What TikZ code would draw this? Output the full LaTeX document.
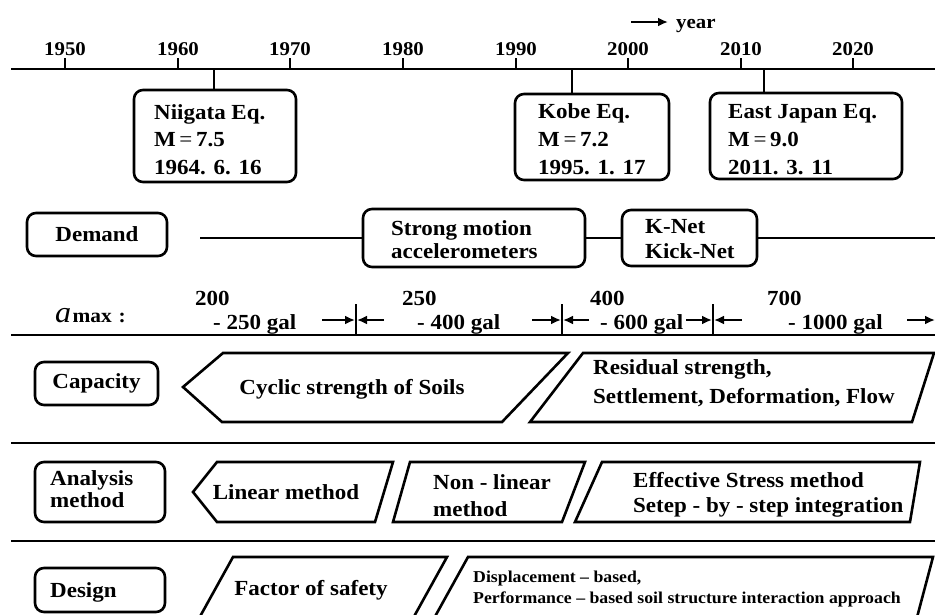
\documentclass[tikz,border=0pt]{standalone}
\usepackage{fontspec}
\setmainfont{Liberation Serif}[FakeStretch=1.07]
\usetikzlibrary{arrows.meta}
\tikzset{
  rbox/.style={draw, rounded corners=9pt, line width=2.6pt, inner sep=0pt},
  lbl/.style={font=\fontsize{21.5}{26}\selectfont\bfseries, inner sep=0pt, anchor=base west},
  clbl/.style={font=\fontsize{21.5}{26}\selectfont\bfseries, inner sep=0pt},
  slbl/.style={font=\fontsize{16.6}{19}\selectfont\bfseries, inner sep=0pt, anchor=base west},
  yr/.style={font=\fontsize{19.5}{22}\selectfont\bfseries, inner sep=0pt, anchor=base},
  arr/.style={-{Latex[length=10pt,width=9pt]}, line width=2.4pt},
  shp/.style={draw, line width=2.6pt, line join=miter},
  rule/.style={line width=2.6pt},
}
\begin{document}
\begin{tikzpicture}[x=1pt,y=-1pt]
\useasboundingbox (0,0) rectangle (935,614);
\clip (0,0) rectangle (935,614);

% ---------- timeline ----------
\coordinate (tlL) at (11,69);
\coordinate (tlR) at (935,69);
\draw[rule] (tlL) -- (tlR);
\foreach \x/\t in {65/1950,178/1960,290/1970,403/1980,516/1990,628/2000,741/2010,853/2020}{
  \draw[rule] (\x,58) -- (\x,69);
  \node[yr] (y\t) at (\x,55) {\t};
}
\coordinate (yrA) at (631,22);
\coordinate (yrB) at (668,22);
\draw[arr] (yrA) -- (yrB);
\node[lbl, font=\fontsize{19.5}{22}\selectfont\bfseries] (year) at (676,28) {year};

% ---------- earthquakes ----------
\node[rbox, minimum width=162, minimum height=92] (niigata) at (215,136) {};
\node[rbox, minimum width=154, minimum height=86] (kobe) at (592,137) {};
\node[rbox, minimum width=192, minimum height=86] (east) at (806,136) {};
\coordinate (nT) at (214,69);
\coordinate (kT) at (572,69);
\coordinate (eT) at (764,69);
\draw[rule] (nT) -- (nT |- niigata.north);
\draw[rule] (kT) -- (kT |- kobe.north);
\draw[rule] (eT) -- (eT |- east.north);

\node[lbl] (n1) at (154,119) {Niigata Eq.};
\node[lbl] (n2) at (154,146) {M{\mdseries\,=\,}7.5};
\node[lbl] (n3) at (154,174) {1964. 6. 16};
\node[lbl] (k1) at (538,118) {Kobe Eq.};
\node[lbl] (k2) at (538,146) {M{\mdseries\,=\,}7.2};
\node[lbl] (k3) at (538,174) {1995. 1. 17};
\node[lbl] (e1) at (728,118) {East Japan Eq.};
\node[lbl] (e2) at (728,146) {M{\mdseries\,=\,}9.0};
\node[lbl] (e3) at (728,174) {2011. 3. 11};

% ---------- demand ----------
\node[rbox, clbl, minimum width=140, minimum height=43] (demand) at (97,234.5) {Demand};
\node[rbox, minimum width=222, minimum height=58] (strong) at (474,238) {};
\node[rbox, minimum width=135, minimum height=56] (knet) at (689.5,238) {};
\coordinate (dL) at (200,238);
\coordinate (dR) at (935,238);
\draw[rule] (dL) -- (strong.west);
\draw[rule] (strong.east) -- (knet.west);
\draw[rule] (knet.east) -- (dR);
\node[lbl] (s1) at (391,235) {Strong motion};
\node[lbl] (s2) at (391,258) {accelerometers};
\node[lbl] (kn1) at (645,233) {K-Net};
\node[lbl] (kn2) at (645,258) {Kick-Net};

% ---------- amax ----------
\node[inner sep=0pt, anchor=base west, font=\fontsize{30}{30}\selectfont\itshape\mdseries] (amaxa) at (55,322) {a};
\node[inner sep=0pt, anchor=base west, font=\fontsize{20}{22}\selectfont\bfseries] (amax) at ([xshift=1pt]amaxa.base east) {max\,\,:};
\node[lbl] (v200) at (195,305) {200};
\node[lbl] (r1) at (213,329) {- 250 gal};
\node[lbl] (v250) at (402,305) {250};
\node[lbl] (r2) at (417,329) {- 400 gal};
\node[lbl] (v400) at (590,305) {400};
\node[lbl] (r3) at (600,329) {- 600 gal};
\node[lbl] (v700) at (767,305) {700};
\node[lbl] (r4) at (788,329) {- 1000 gal};
\foreach \x in {356,562,713}{
  \draw[line width=2pt] (\x,304) -- (\x,335);
}
\draw[arr] (322,320) -- (355,320);
\draw[arr] (384,320) -- (357,320);
\draw[arr] (532,320) -- (561,320);
\draw[arr] (589,320) -- (563,320);
\draw[arr] (686,320) -- (712,320);
\draw[arr] (742,320) -- (714,320);
\draw[arr] (907,320) -- (935,320);
\draw[rule] (11,335) -- (935,335);

% ---------- capacity ----------
\node[rbox, clbl, minimum width=123, minimum height=43] (capacity) at (96.5,383.5) {Capacity};
\draw[shp] (183,387) -- (223,353) -- (568,353) -- (502,422) -- (222,422) -- cycle;
\node[clbl] (cyc) at (352,389) {Cyclic strength of Soils};
\draw[shp] (530,422) -- (583,353) -- (934,353) -- (912,422) -- cycle;
\node[lbl] (res1) at (593,374) {Residual strength,};
\node[lbl] (res2) at (593,403) {Settlement, Deformation, Flow};
\draw[rule] (11,443) -- (935,443);

% ---------- analysis ----------
\node[rbox, minimum width=130, minimum height=60] (analysis) at (100,492) {};
\node[lbl, font=\fontsize{21.5}{22}\selectfont\bfseries] (an1) at (50,485) {Analysis};
\node[lbl, font=\fontsize{21.5}{22}\selectfont\bfseries] (an2) at (50,507) {method};
\draw[shp] (193,492) -- (217,462) -- (393,462) -- (375,522) -- (217,522) -- cycle;
\node[clbl] (lin) at (286,492) {Linear method};
\draw[shp] (393,522) -- (410,462) -- (585,462) -- (562,522) -- cycle;
\node[lbl] (nl1) at (433,489) {Non - linear};
\node[lbl] (nl2) at (433,516) {method};
\draw[shp] (575,522) -- (602,462) -- (920,462) -- (910,522) -- cycle;
\node[lbl] (ef1) at (633,487) {Effective Stress method};
\node[lbl] (ef2) at (633,512) {Setep - by - step integration};
\draw[rule] (11,541) -- (935,541);

% ---------- design ----------
\node[rbox, minimum width=130, minimum height=44] (design) at (100,590) {};
\node[lbl] (des) at (50,597) {Design};
\draw[shp] (233,557) -- (447,557) -- (401,640) -- (187,640) -- cycle;
\node[clbl] (fos) at (311,590) {Factor of safety};
\draw[shp] (468,557) -- (933,557) -- (911,640) -- (422,640) -- cycle;
\node[slbl] (dp1) at (473,582) {Displacement -- based,};
\node[slbl] (dp2) at (473,603) {Performance -- based soil structure interaction approach};
\end{tikzpicture}
\end{document}
